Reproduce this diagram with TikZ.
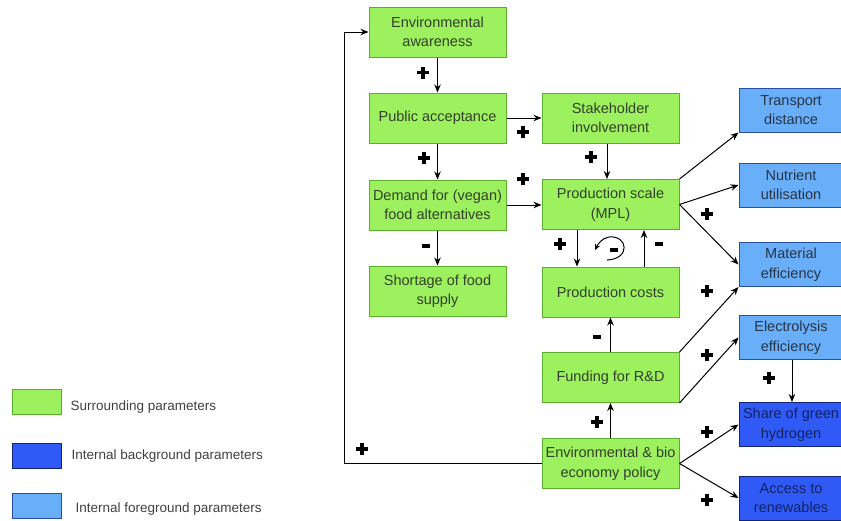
\documentclass[tikz,border=0pt]{standalone}
\usepackage{fontspec}
\setmainfont{Liberation Sans}
\usetikzlibrary{arrows.meta}

\definecolor{surfill}{HTML}{9DF05E}
\definecolor{surline}{HTML}{5DAE2E}
\definecolor{surtext}{HTML}{33402B}
\definecolor{fgfill}{HTML}{68AEF8}
\definecolor{fgline}{HTML}{24509E}
\definecolor{fgtext}{HTML}{283446}
\definecolor{bgfill}{HTML}{2F5AF6}
\definecolor{bgline}{HTML}{14237A}
\definecolor{bgtext}{HTML}{15215E}

% heavy polarity glyphs built from rules
\newcommand{\plussign}{{\setlength{\unitlength}{1pt}\begin{picture}(12,12)%
  \put(0,4.2){\rule{12pt}{3.6pt}}\put(4.2,0){\rule{3.6pt}{12pt}}\end{picture}}}
\newcommand{\minussign}{\rule{8pt}{4pt}}

\tikzset{
  box/.style={rectangle, draw, line width=1pt, align=center, inner sep=2pt,
    font=\fontsize{14.5}{19.5}\selectfont},
  surr/.style={box, fill=surfill, draw=surline, text=surtext,
    minimum width=137pt, minimum height=50pt},
  fg/.style={box, fill=fgfill, draw=fgline, text=fgtext,
    minimum width=104pt, minimum height=44pt},
  bg/.style={box, fill=bgfill, draw=bgline, text=bgtext,
    minimum width=104pt, minimum height=44pt},
  legbox/.style={rectangle, draw, line width=1pt, minimum width=49pt, minimum height=25pt},
  legtext/.style={anchor=west, text=black!75, font=\fontsize{13.5}{16}\selectfont},
  arr/.style={draw=black, line width=1pt, -{Stealth[length=8pt,width=6.5pt]}},
  sgn/.style={text=black, inner sep=0pt}
}

\begin{document}
\begin{tikzpicture}[x=1pt, y=-1pt]
\useasboundingbox (0,0) rectangle (841,520);
\clip (0,0) rectangle (841,520);

% surrounding parameters, left column
\node[surr] (aw) at (437.5,32)    {Environmental\\awareness};
\node[surr] (pa) at (437.5,118)   {Public acceptance};
\node[surr] (dem) at (437.5,205)  {Demand for (vegan)\\food alternatives};
\node[surr] (sh) at (437.5,291)   {Shortage of food\\supply};

% surrounding parameters, middle column
\node[surr] (st) at (610.5,118)   {Stakeholder\\involvement};
\node[surr] (ps) at (610.5,204.5) {Production scale\\(MPL)};
\node[surr] (pc) at (610.5,292)   {Production costs};
\node[surr] (fu) at (610.5,377.5) {Funding for R\&D};
\node[surr] (po) at (610.5,463.5) {Environmental \& bio\\economy policy};

% internal parameters, right column
\node[fg] (tr) at (791,110)   {Transport\\distance};
\node[fg] (nu) at (791,185)   {Nutrient\\utilisation};
\node[fg] (ma) at (791,264.5) {Material\\efficiency};
\node[fg] (el) at (791,337.5) {Electrolysis\\efficiency};
\node[bg] (gh) at (791,424.5) {Share of green\\hydrogen};
\node[bg] (ac) at (791,498)   {Access to\\renewables};

% legend
\node[legbox, fill=surfill, draw=surline] (l1) at (36.5,401.5) {};
\node[legbox, fill=bgfill, draw=bgline]   (l2) at (36.5,456) {};
\node[legbox, fill=fgfill, draw=fgline]   (l3) at (36.5,505.5) {};
\node[legtext] (t1) at (67,407)  {Surrounding parameters};
\node[legtext] (t2) at (68,456)  {Internal background parameters};
\node[legtext] (t3) at (72,509)  {Internal foreground parameters};

% vertical guide positions for the parallel links
\coordinate (fb) at (344,0);
\coordinate (xa) at (607,0);
\coordinate (xb) at (577,0);
\coordinate (xc) at (644,0);
\coordinate (xd) at (792,0);

% policy feedback to awareness
\draw[arr] (po.west) -- (po.west -| fb) |- (aw.west);

% connectors
\draw[arr] (aw) -- (pa);
\draw[arr] (pa) -- (st);
\draw[arr] (pa) -- (dem);
\draw[arr] (dem.east) -- (dem.east -| ps.west);
\draw[arr] (dem) -- (sh);
\draw[arr] (st.south -| xa) -- (ps.north -| xa);
\draw[arr] (ps.south -| xb) -- (pc.north -| xb);
\draw[arr] (pc.north -| xc) -- (ps.south -| xc);
\draw[arr] (fu) -- (pc);
\draw[arr] (po) -- (fu);
\draw[arr] (ps.north east) -- (tr.south west);
\draw[arr] (ps.east) -- (nu.west);
\draw[arr] (ps.east) -- (ma.west);
\draw[arr] (fu.north east) -- (ma.south west);
\draw[arr] (fu.south east) -- (el.west);
\draw[arr] (el.south -| xd) -- (gh.north -| xd);
\draw[arr] (po.east) -- (gh.west);
\draw[arr] (po.east) -- (ac.west);

% balancing loop marker
\coordinate (la) at (607,260);
\coordinate (lb) at (609,237);
\coordinate (lc) at (595,250);
\draw[line width=1pt, -{Stealth[length=6pt,width=5.5pt]}]
  (la) .. controls (631,259) and (628,235) .. (lb)
  .. controls (602,238) and (598,244) .. (lc);
\node[sgn] (lm) at (614,250) {\minussign};

% polarity signs
\node[sgn] (s1)  at (423,72.5) {\plussign};
\node[sgn] (s2)  at (523,132) {\plussign};
\node[sgn] (s3)  at (424,158) {\plussign};
\node[sgn] (s4)  at (523,179) {\plussign};
\node[sgn] (s5)  at (426,245.5) {\minussign};
\node[sgn] (s6)  at (591,157) {\plussign};
\node[sgn] (s7)  at (560,244) {\plussign};
\node[sgn] (s8)  at (659,244) {\minussign};
\node[sgn] (s9)  at (597,337) {\minussign};
\node[sgn] (s10) at (597,422) {\plussign};
\node[sgn] (s11) at (707,214) {\plussign};
\node[sgn] (s12) at (707,291) {\plussign};
\node[sgn] (s13) at (707,355) {\plussign};
\node[sgn] (s14) at (769,378) {\plussign};
\node[sgn] (s15) at (707,432) {\plussign};
\node[sgn] (s16) at (707,500) {\plussign};
\node[sgn] (s17) at (362,449) {\plussign};
\end{tikzpicture}
\end{document}
